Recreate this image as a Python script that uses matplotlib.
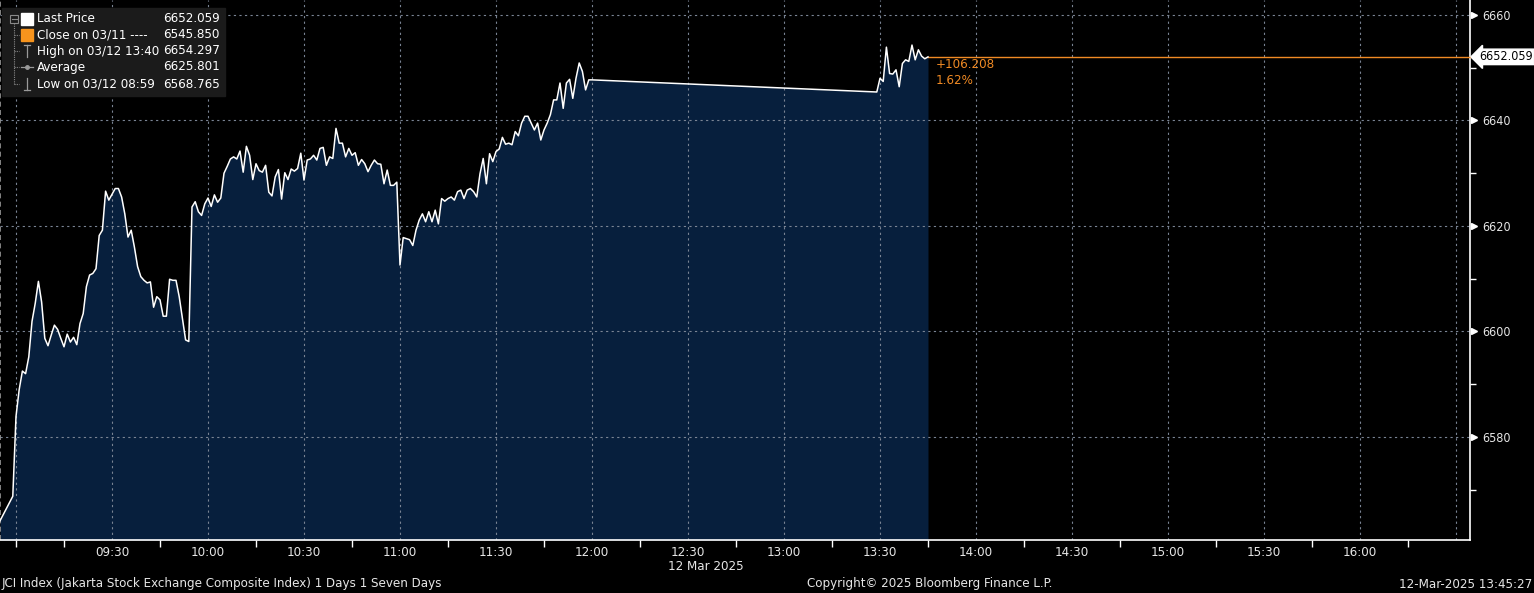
import matplotlib
matplotlib.use("Agg")
import matplotlib.pyplot as plt
import matplotlib.dates as mdates
from matplotlib.patches import Rectangle
from matplotlib.lines import Line2D
import matplotlib.transforms as mtransforms
import pandas as pd

# ---------------- data ----------------
day = "2025-03-12"
pre_time = "08:55"
pre_value = 6564.1
session1_start = "08:59"
session1_values = [
    6568.765, 6583.9, 6589.0, 6592.5, 6592.0, 6595.2, 6601.9, 6605.3, 6609.5, 6605.6,
    6598.7, 6597.3, 6599.3, 6601.2, 6600.4, 6598.7, 6597.1, 6599.5, 6598.0, 6598.9,
    6597.5, 6601.5, 6603.4, 6608.5, 6610.7, 6611.0, 6611.9, 6618.2, 6619.2, 6626.6,
    6624.9, 6626.0, 6627.1, 6627.1, 6625.5, 6622.3, 6617.9, 6619.2, 6616.0, 6612.3,
    6610.4, 6609.7, 6609.2, 6609.4, 6604.6, 6606.6, 6606.0, 6602.9, 6602.9, 6609.9,
    6609.7, 6609.7, 6606.6, 6602.5, 6598.4, 6598.1, 6623.6, 6624.6, 6622.7, 6622.0,
    6624.2, 6625.3, 6623.7, 6625.9, 6624.5, 6625.3, 6630.0, 6631.3, 6632.7, 6633.1,
    6632.7, 6634.2, 6630.2, 6635.1, 6633.4, 6628.8, 6631.8, 6630.5, 6630.2, 6631.5,
    6626.4, 6625.7, 6629.3, 6630.7, 6625.1, 6630.1, 6628.8, 6630.8, 6630.4, 6630.9,
    6633.8, 6628.7, 6632.5, 6632.7, 6633.4, 6632.5, 6634.7, 6634.9, 6631.5, 6633.1,
    6632.8, 6638.5, 6635.7, 6635.7, 6633.1, 6634.7, 6633.4, 6633.9, 6631.5, 6632.6,
    6631.8, 6630.3, 6631.5, 6632.5, 6631.8, 6631.7, 6628.0, 6630.6, 6627.7, 6627.7,
    6628.3, 6612.6, 6617.8, 6617.6, 6617.4, 6616.3, 6619.2, 6621.1, 6622.3, 6620.8,
    6622.7, 6620.8, 6623.0, 6620.4, 6625.2, 6624.7, 6625.2, 6625.5, 6624.9, 6626.5,
    6626.8, 6625.2, 6626.8, 6627.1, 6626.5, 6625.5, 6629.9, 6632.8, 6628.0, 6633.7,
    6632.2, 6634.1, 6634.6, 6636.8, 6635.5, 6635.7, 6635.4, 6637.9, 6637.1, 6639.5,
    6640.8, 6640.8, 6639.5, 6638.2, 6639.5, 6636.3, 6638.2, 6639.5, 6641.1, 6643.9,
    6643.9, 6647.1, 6642.3, 6647.1, 6647.8, 6644.2, 6648.0, 6650.9, 6649.3, 6645.8,
    6647.7, 6647.7,
]
session2_start = "13:29"
session2_values = [
    6645.4, 6648.0, 6647.4, 6653.9, 6648.9, 6648.8, 6649.6, 6646.4, 6650.8, 6651.5,
    6651.2, 6654.297, 6651.5, 6653.4, 6652.2, 6651.7, 6652.059,
]
last_price = 6652.059
change_text = "+106.208"
change_pct = "1.62%"
y_ticks = [6580, 6600, 6620, 6640, 6660]
y_minor = [6570, 6590, 6610, 6630, 6650]
x_label_times = ["09:30", "10:00", "10:30", "11:00", "11:30", "12:00", "12:30",
                 "13:00", "13:30", "14:00", "14:30", "15:00", "15:30", "16:00"]
x_grid_times = ["09:00"] + x_label_times + ["16:30"]
x_minor_times = ["09:00", "09:15", "09:45", "10:15", "10:45", "11:15", "11:45", "12:15",
                 "12:45", "13:15", "13:45", "14:15", "14:45", "15:15", "15:45",
                 "16:15"]
legend_rows = [
    ("Last Price", "6652.059"),
    ("Close on 03/11 ----", "6545.850"),
    ("High on 03/12 13:40", "6654.297"),
    ("Average", "6625.801"),
    ("Low on 03/12 08:59", "6568.765"),
]
date_label = "12 Mar 2025"
footer_left = "JCI Index (Jakarta Stock Exchange Composite Index) 1 Days 1 Seven Days"
footer_mid = "Copyright\u00a9 2025 Bloomberg Finance L.P."
footer_right = "12-Mar-2025 13:45:27"

# ---------------- fonts ----------------
plt.rcParams["font.family"] = ["DejaVu Sans"]
plt.rcParams["font.stretch"] = "condensed"
FS = 9.5
FS_AX = 9.0

W, H = 1534, 593
fig = plt.figure(figsize=(W / 100, H / 100), dpi=100, facecolor="black")


def T(hm):
    return pd.Timestamp(f"{day} {hm}")


t1 = pd.date_range(T(session1_start), periods=len(session1_values), freq="min")
t2 = pd.date_range(T(session2_start), periods=len(session2_values), freq="min")
times = [T(pre_time)] + list(t1) + list(t2)
values = [pre_value] + session1_values + session2_values
xs = mdates.date2num(times)

ax_left, ax_right, ax_bottom = 0, 1470, 540
ax = fig.add_axes([ax_left / W, (H - ax_bottom) / H, (ax_right - ax_left) / W, ax_bottom / H])
ax.set_facecolor("black")

x0 = mdates.date2num(T("08:55"))
x1 = x0 + (1470 / 3.2) / 1440.0
y_bot, y_top = 6560.47, 6662.84
ax.set_xlim(x0, x1)
ax.set_ylim(y_bot, y_top)

navy = "#071f3d"
orange = "#f08a24"
ax.fill_between(xs, values, y_bot, color=navy, zorder=1, linewidth=0)
ax.plot(xs, values, color="white", lw=1.1, zorder=4)

grid_c = "#7a8494"
for yv in y_ticks:
    ax.axhline(yv, color=grid_c, lw=0.8, ls=(0, (2, 3)), zorder=2)
for tm in x_grid_times:
    ax.axvline(mdates.date2num(T(tm)), color=grid_c, lw=0.8, ls=(0, (2, 3)), zorder=2)
ax.axvline(x0, color="#9a9a9a", lw=1.2, ls=(0, (3, 2)), zorder=2)

# last price line
ax.plot([xs[-1], x1 + (6 / 1470) * (x1 - x0)], [last_price, last_price], color=orange,
        lw=1.0, zorder=3, clip_on=False)
ax.text(xs[-1] + 2.3 / 1440, 6650.7, change_text, color=orange, fontsize=FS,
        va="center", ha="left", zorder=5)
ax.text(xs[-1] + 2.3 / 1440, 6647.5, change_pct, color=orange, fontsize=FS,
        va="center", ha="left", zorder=5)

# spines
for s in ["top", "left"]:
    ax.spines[s].set_visible(False)
ax.spines["right"].set_color("white")
ax.spines["bottom"].set_color("white")
ax.spines["right"].set_linewidth(1.2)
ax.spines["bottom"].set_linewidth(1.2)

# y axis on right
ax.yaxis.tick_right()
ax.set_yticks(y_ticks)
ax.set_yticks(y_minor, minor=True)
ax.tick_params(axis="y", which="major", length=0, pad=9, labelcolor="#e6e6e6",
               labelsize=FS_AX)
ax.tick_params(axis="y", which="minor", length=4, color="white", width=1, direction="out")
tr = mtransforms.blended_transform_factory(ax.transAxes, ax.transData)
ax.plot([1.0 + 4 / 1470] * len(y_ticks), y_ticks, marker=">", ms=4.5, color="white",
        ls="none", transform=tr, clip_on=False, zorder=6)
ax.text(1.0 + 9 / 1470, last_price, f"{last_price:.3f}", transform=tr, color="black",
        fontsize=FS_AX, va="center", ha="left", zorder=7,
        bbox=dict(boxstyle="larrow,pad=0.1", fc="white", ec="white"))

# x axis
ax.set_xticks([mdates.date2num(T(t)) for t in x_label_times])
ax.set_xticklabels(x_label_times)
ax.set_xticks([mdates.date2num(T(t)) for t in x_minor_times], minor=True)
ax.tick_params(axis="x", which="major", length=0, pad=4, labelcolor="#e6e6e6",
               labelsize=FS)
ax.tick_params(axis="x", which="minor", length=5, color="white", width=1, direction="out")


def fx(px):
    return px / W


def fy(py):
    return 1 - py / H


fig.text(fx(706), fy(567), date_label, color="#e6e6e6", fontsize=FS, ha="center",
         va="center")
fig.text(fx(2), fy(584), footer_left, color="#e6e6e6", fontsize=FS, ha="left", va="center")
fig.text(fx(930), fy(584), footer_mid, color="#e6e6e6", fontsize=FS, ha="center",
         va="center")
fig.text(fx(1532), fy(584), footer_right, color="#e6e6e6", fontsize=FS, ha="right",
         va="center")

# legend box
fig.patches.append(Rectangle((fx(2), fy(96)), fx(225) - fx(2), fy(8) - fy(96),
                             transform=fig.transFigure, color="#1b1b1b", zorder=10))
row_y = [19, 35, 51, 67, 84]
tree_c = "#8a8a8a"
fig.lines.append(Line2D([fx(14), fx(14)], [fy(23), fy(84)], transform=fig.transFigure,
                        color=tree_c, lw=0.8, ls=(0, (1, 1)), zorder=11))
fig.patches.append(Rectangle((fx(10), fy(23)), fx(8) - fx(0), fy(15) - fy(23),
                             transform=fig.transFigure, fill=False, ec=tree_c, lw=0.8,
                             zorder=11))
fig.lines.append(Line2D([fx(11.5), fx(16.5)], [fy(19), fy(19)], transform=fig.transFigure,
                        color=tree_c, lw=0.8, zorder=12))
for ry in row_y[1:]:
    fig.lines.append(Line2D([fx(14), fx(19)], [fy(ry), fy(ry)], transform=fig.transFigure,
                            color=tree_c, lw=0.8, ls=(0, (1, 1)), zorder=11))
# icons
fig.patches.append(Rectangle((fx(21), fy(25)), fx(12), fy(13) - fy(25),
                             transform=fig.transFigure, color="white", zorder=11))
fig.patches.append(Rectangle((fx(21), fy(41)), fx(12), fy(29) - fy(41),
                             transform=fig.transFigure, color="#f7941d", zorder=11))
ic = "#9a9a9a"
# high icon (T)
fig.lines.append(Line2D([fx(27), fx(27)], [fy(45), fy(57)], transform=fig.transFigure,
                        color=ic, lw=0.9, zorder=11))
fig.lines.append(Line2D([fx(24), fx(30)], [fy(45), fy(45)], transform=fig.transFigure,
                        color=ic, lw=0.9, zorder=11))
# average icon
fig.lines.append(Line2D([fx(21), fx(33)], [fy(67), fy(67)], transform=fig.transFigure,
                        color=ic, lw=0.9, zorder=11))
fig.lines.append(Line2D([fx(27)], [fy(67)], transform=fig.transFigure,
                        color=ic, marker="o", ms=2.5, zorder=11))
# low icon
fig.lines.append(Line2D([fx(27), fx(27)], [fy(78), fy(90)], transform=fig.transFigure,
                        color=ic, lw=0.9, zorder=11))
fig.lines.append(Line2D([fx(24), fx(30)], [fy(90), fy(90)], transform=fig.transFigure,
                        color=ic, lw=0.9, zorder=11))
for (lab, val), ry in zip(legend_rows, row_y):
    fig.text(fx(37), fy(ry), lab, color="white", fontsize=FS, ha="left", va="center",
             zorder=12)
    fig.text(fx(220), fy(ry), val, color="white", fontsize=FS, ha="right", va="center",
             zorder=12)

fig.savefig("out.png", dpi=100, facecolor="black")
